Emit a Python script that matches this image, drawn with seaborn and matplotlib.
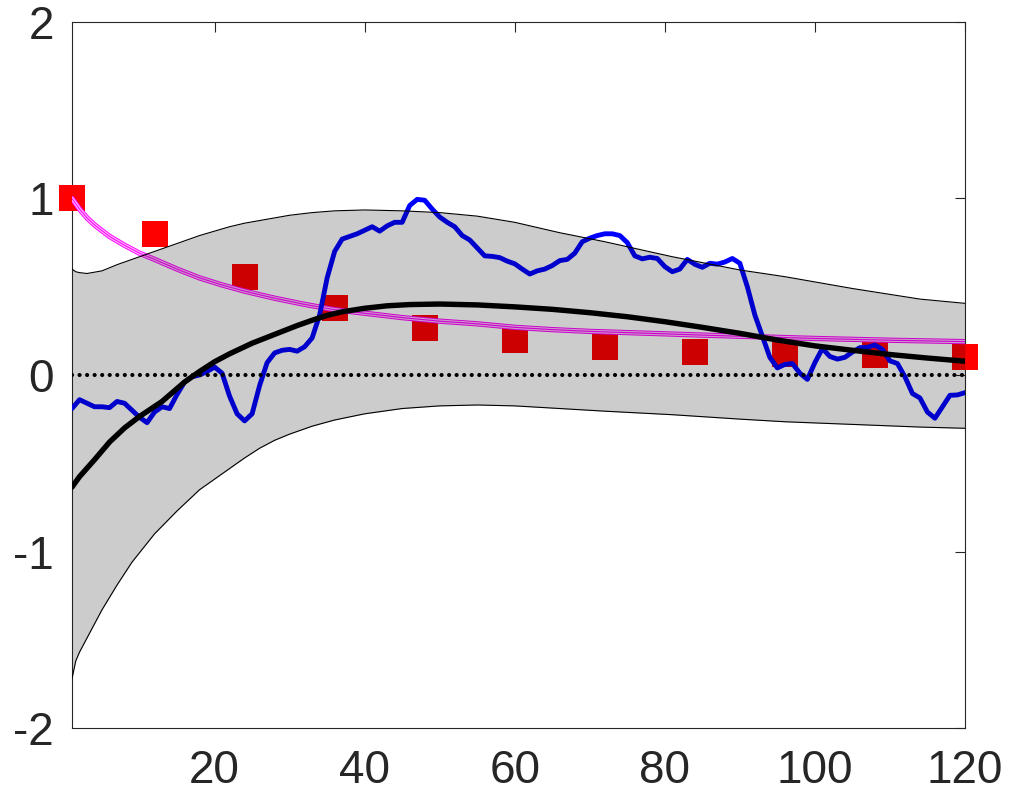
import numpy as np
import pandas as pd
import matplotlib
matplotlib.use("Agg")
import matplotlib.pyplot as plt
import seaborn as sns

# ---------------- data ----------------
blue_x = list(range(1, 121))
blue_y = [-0.19, -0.14, -0.16, -0.18, -0.18, -0.185, -0.15, -0.16, -0.20, -0.24,
          -0.27, -0.21, -0.18, -0.19, -0.11, -0.04, -0.01, 0.00, 0.02, 0.045,
          0.01, -0.12, -0.22, -0.26, -0.22, -0.06, 0.07, 0.125, 0.14, 0.145,
          0.135, 0.16, 0.21, 0.34, 0.55, 0.70, 0.77, 0.785, 0.80, 0.82,
          0.84, 0.815, 0.845, 0.865, 0.865, 0.96, 0.995, 0.99, 0.94, 0.895,
          0.865, 0.84, 0.79, 0.765, 0.72, 0.675, 0.672, 0.665, 0.645, 0.63,
          0.60, 0.572, 0.59, 0.60, 0.62, 0.648, 0.655, 0.69, 0.755, 0.775,
          0.79, 0.80, 0.80, 0.79, 0.75, 0.675, 0.658, 0.667, 0.66, 0.614,
          0.585, 0.60, 0.655, 0.627, 0.61, 0.633, 0.628, 0.64, 0.66, 0.633,
          0.50, 0.34, 0.22, 0.10, 0.04, 0.06, 0.065, 0.01, -0.025, 0.07,
          0.15, 0.105, 0.09, 0.10, 0.13, 0.155, 0.157, 0.17, 0.145, 0.08,
          0.065, -0.01, -0.105, -0.13, -0.21, -0.245, -0.18, -0.115, -0.113, -0.10]

black_x = [1, 2, 4, 6, 8, 10, 13, 16, 18, 20, 22, 25, 28, 31, 33, 35, 37, 40, 43,
           46, 50, 55, 60, 65, 70, 75, 80, 85, 90, 95, 100, 105, 110, 115, 120]
black_y = [-0.635, -0.576, -0.48, -0.38, -0.30, -0.235, -0.15, -0.04, 0.02, 0.075,
           0.12, 0.18, 0.23, 0.28, 0.31, 0.338, 0.358, 0.378, 0.392, 0.399, 0.402,
           0.397, 0.386, 0.372, 0.353, 0.33, 0.302, 0.27, 0.236, 0.198, 0.165,
           0.14, 0.116, 0.096, 0.078]

magenta_x = [1, 2, 3, 4, 6, 8, 10, 12, 15, 18, 21, 24, 28, 32, 36, 40, 45, 50, 55,
             60, 65, 70, 78, 85, 92, 100, 110, 120]
magenta_y = [1.0, 0.94, 0.89, 0.85, 0.785, 0.735, 0.69, 0.655, 0.60, 0.55, 0.51,
             0.475, 0.435, 0.40, 0.37, 0.35, 0.325, 0.305, 0.29, 0.27, 0.257,
             0.247, 0.236, 0.226, 0.217, 0.207, 0.197, 0.189]

square_x = [1, 12, 24, 36, 48, 60, 72, 84, 96, 108, 120]
square_y = [1.0, 0.80, 0.555, 0.38, 0.266, 0.198, 0.16, 0.13, 0.12, 0.113, 0.10]

band_x = [1, 1.5, 2, 3, 5, 7, 9, 12, 15, 18, 20, 22, 24, 26, 28, 30, 33, 36, 40,
          45, 50, 55, 60, 66, 72, 81, 90, 96, 105, 114, 120]
band_upper = [0.60, 0.585, 0.58, 0.575, 0.59, 0.625, 0.655, 0.70, 0.745, 0.79,
              0.815, 0.84, 0.86, 0.875, 0.89, 0.905, 0.92, 0.93, 0.935, 0.93,
              0.92, 0.90, 0.865, 0.806, 0.755, 0.67, 0.595, 0.557, 0.49, 0.43, 0.406]
band_lower = [-1.72, -1.62, -1.57, -1.49, -1.33, -1.19, -1.06, -0.90, -0.77, -0.65,
              -0.59, -0.53, -0.47, -0.415, -0.37, -0.335, -0.29, -0.255, -0.22,
              -0.19, -0.175, -0.17, -0.175, -0.19, -0.205, -0.225, -0.25, -0.265,
              -0.28, -0.295, -0.302]

x_ticks = [20, 40, 60, 80, 100, 120]
y_ticks = [-2, -1, 0, 1, 2]

# ---------------- plotting ----------------
sns.set_style("white")
plt.rcParams['font.family'] = ['Liberation Sans', 'DejaVu Sans']
plt.rcParams['axes.unicode_minus'] = False

fig = plt.figure(figsize=(10.1, 8.08), dpi=100)
ax = fig.add_axes([0.0713, 0.099, 0.8841, 0.8738])

df_sq = pd.DataFrame({'x': square_x, 'y': square_y})
sns.scatterplot(data=df_sq, x='x', y='y', marker='s', s=350, color='#ff0000',
                edgecolor='none', linewidth=0, ax=ax, zorder=3, clip_on=False)

df_m = pd.DataFrame({'x': magenta_x, 'y': magenta_y})
sns.lineplot(data=df_m, x='x', y='y', color='#ff00ff', lw=3.8, ax=ax, zorder=4)
sns.lineplot(data=df_m, x='x', y='y', color='#ffc0ff', lw=2.4, ax=ax, zorder=4.1)
sns.lineplot(data=df_m, x='x', y='y', color='#ff00ff', lw=0.8, ax=ax, zorder=4.2)

df_b = pd.DataFrame({'x': blue_x, 'y': blue_y})
sns.lineplot(data=df_b, x='x', y='y', color='#0000ff', lw=3.5, ax=ax, zorder=5)

ax.fill_between(band_x, band_lower, band_upper, color='black', alpha=0.2,
                lw=0, zorder=8)
ax.plot(band_x, band_upper, color='black', lw=0.8, zorder=9)
ax.plot(band_x, band_lower, color='black', lw=0.8, zorder=9)

ax.axhline(0, color='black', lw=3, linestyle=(0, (0.01, 1.8)),
           dash_capstyle='round', zorder=10)

df_k = pd.DataFrame({'x': black_x, 'y': black_y})
sns.lineplot(data=df_k, x='x', y='y', color='black', lw=3.9, ax=ax, zorder=11)

ax.set_xlim(1, 120)
ax.set_ylim(-2, 2)
ax.set_xticks(x_ticks)
ax.set_yticks(y_ticks)
ax.set_xticklabels([str(t) for t in x_ticks])
ax.set_yticklabels([str(t) for t in y_ticks])
ax.set_xlabel('')
ax.set_ylabel('')

for s in ax.spines.values():
    s.set_visible(True)
    s.set_color('#262626')
    s.set_linewidth(0.8)
ax.tick_params(axis='both', direction='in', length=7, width=0.8, color='#262626',
               labelsize=33, labelcolor='#262626', top=True, right=True)
ax.tick_params(axis='x', pad=15)
ax.tick_params(axis='y', pad=13)

fig.savefig('out.png', dpi=100)
